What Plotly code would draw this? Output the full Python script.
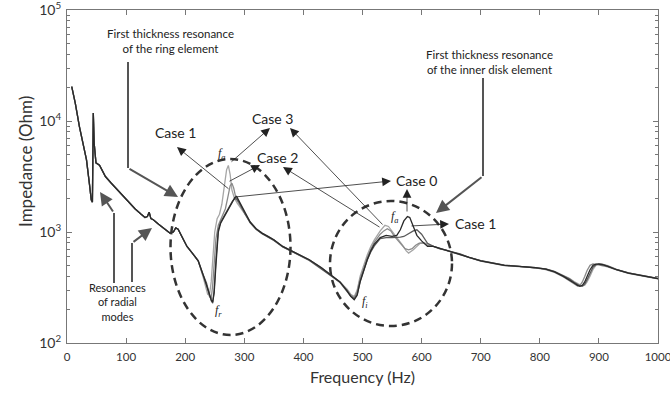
import plotly.graph_objects as go

# ---------------- data ----------------
freq_low = [8, 14, 21, 27, 33, 38, 41, 43, 44.5, 46, 49, 55, 65, 75, 90, 100, 115, 125,
            132, 136, 139, 142, 146, 155, 165, 174, 180, 184, 188]
z_low = [20400, 14500, 8900, 6300, 4470, 2700, 1950, 1860, 11800, 6300, 4200, 4000, 3160,
         2750, 2240, 1950, 1620, 1450, 1350, 1380, 1510, 1320, 1290, 1175, 1070, 980, 1000,
         1090, 1060]

freq_case0 = [195, 203, 212, 222, 230, 236, 241, 244, 246.5, 249, 252, 256, 260, 264, 268, 272,
              276, 280, 284, 287, 291, 296, 302, 310, 320, 330, 340, 350, 365, 380, 395, 410,
              430, 450, 462, 474, 480, 486, 491, 496, 502, 508, 514, 520, 530, 540, 550, 558,
              564, 570, 576, 580, 586, 592, 600, 610, 620, 632, 640]
z_case0 = [891, 741, 646, 550, 417, 331, 269, 245, 234, 282, 501, 1000, 1202, 1318, 1445, 1585,
           1738, 1905, 2042, 2089, 1905, 1660, 1445, 1230, 1072, 977, 912, 851, 741, 676, 617,
           562, 479, 398, 355, 295, 263, 245, 269, 355, 457, 562, 676, 776, 891, 933, 912, 933,
           1047, 1259, 1380, 1349, 1122, 933, 832, 741, 741, 708, 692]

freq_case1 = [195, 203, 212, 222, 230, 236, 241, 244, 246.5, 249, 252, 256, 260, 264, 268, 272,
              276, 280, 284, 287, 291, 296, 302, 310, 320, 330, 340, 350, 365, 380, 395, 410,
              430, 450, 462, 474, 480, 486, 491, 496, 502, 508, 514, 520, 530, 540, 550, 558,
              564, 570, 576, 580, 586, 592, 600, 610, 620, 632, 640]
z_case1 = [891, 741, 646, 550, 417, 347, 275, 240, 229, 300, 560, 1050, 1230, 1350, 1480, 1620,
           1780, 1900, 2000, 1990, 1860, 1640, 1430, 1210, 1060, 965, 900, 840, 735, 665, 610,
           555, 470, 392, 350, 292, 265, 250, 275, 360, 460, 560, 660, 750, 871, 891, 891, 891,
           900, 912, 955, 980, 1023, 1047, 955, 790, 741, 700, 690]

freq_case2 = [195, 203, 212, 222, 230, 236, 241, 244, 246.5, 249, 252, 256, 260, 264, 268, 272,
              276, 279, 282, 286, 291, 296, 302, 310, 320, 330, 340, 350, 365, 380, 395, 410,
              430, 450, 462, 474, 480, 486, 491, 496, 502, 508, 514, 520, 530, 536, 542, 548,
              554, 560, 566, 572, 578, 584, 590, 596, 604, 610, 620, 632, 640]
z_case2 = [891, 741, 646, 550, 407, 331, 263, 251, 331, 550, 870, 1150, 1300, 1410, 1620, 2040,
           2600, 2754, 2500, 2000, 1800, 1620, 1430, 1220, 1072, 977, 912, 851, 741, 676, 617,
           562, 479, 398, 355, 300, 270, 255, 290, 380, 480, 590, 700, 810, 955, 1023, 1072,
           1023, 912, 832, 759, 708, 692, 708, 759, 794, 794, 759, 741, 708, 692]

freq_case3 = [195, 203, 212, 222, 230, 234, 238, 241, 244, 247, 250, 254, 258, 262, 266, 270,
              273, 276, 279, 283, 288, 295, 302, 310, 320, 330, 340, 350, 365, 380, 395, 410,
              430, 450, 462, 474, 480, 486, 491, 496, 502, 508, 514, 520, 530, 538, 544, 550,
              556, 562, 568, 574, 578, 586, 592, 598, 604, 610, 620, 632, 640]
z_case3 = [891, 741, 646, 550, 398, 331, 275, 269, 355, 600, 1000, 1318, 1445, 1778, 2630, 3631,
           3981, 3311, 2399, 2040, 1820, 1620, 1430, 1220, 1060, 970, 905, 845, 738, 670, 614,
           558, 475, 395, 352, 305, 275, 262, 300, 400, 510, 620, 740, 850, 1023, 1148, 1122,
           1023, 912, 832, 759, 676, 646, 692, 741, 794, 800, 776, 741, 708, 692]

freq_tail = [650, 665, 680, 700, 720, 740, 765, 790, 810, 825, 840, 850, 858, 864, 868, 872,
             876, 880, 885, 890, 895, 900, 906, 915, 930, 950, 970, 990, 1000]
z_tail_case0 = [661, 631, 589, 550, 525, 501, 490, 479, 462, 437, 398, 372, 347, 331, 324, 331,
                355, 398, 457, 501, 513, 513, 507, 490, 457, 427, 407, 389, 380]
z_tail_case1 = [665, 635, 592, 553, 527, 503, 491, 480, 465, 440, 403, 378, 352, 337, 327, 325,
                340, 372, 427, 482, 508, 515, 510, 493, 458, 428, 408, 390, 381]
z_tail_case2 = [658, 628, 585, 547, 522, 499, 488, 477, 458, 432, 393, 365, 340, 326, 330, 355,
                398, 450, 501, 515, 512, 505, 498, 486, 455, 425, 405, 388, 379]
z_tail_case3 = [663, 633, 590, 552, 526, 502, 490, 479, 466, 442, 406, 382, 357, 342, 332, 326,
                332, 355, 400, 460, 500, 515, 514, 497, 460, 429, 409, 391, 382]

x_ticks = [0, 100, 200, 300, 400, 500, 600, 700, 800, 900, 1000]
y_ticks = [100, 1000, 10000, 100000]
y_tick_labels = ["10<sup>2</sup>", "10<sup>3</sup>", "10<sup>4</sup>", "10<sup>5</sup>"]

case_names = ["Case 3", "Case 2", "Case 1", "Case 0"]
case_freqs = [freq_case3, freq_case2, freq_case1, freq_case0]
case_z = [z_case3, z_case2, z_case1, z_case0]
case_tails = [z_tail_case3, z_tail_case2, z_tail_case1, z_tail_case0]
case_colors = ["#a6a6a6", "#8a8a8a", "#5a5a5a", "#2a2a2a"]

# ---------------- figure ----------------
W, H = 670, 394
PL, PR, PT, PB = 67, 658, 10, 343


def px(x):
    return (x - PL) / (PR - PL)


def py(y):
    return (PB - y) / (PB - PT)


fig = go.Figure()
for name, fq, zz, zt, col in zip(case_names, case_freqs, case_z, case_tails, case_colors):
    fig.add_trace(go.Scatter(
        x=freq_low + fq + freq_tail,
        y=z_low + zz + zt,
        mode="lines", name=name,
        line=dict(color=col, width=1.3),
        showlegend=False, hoverinfo="skip"))

FONT = "Lato, 'Open Sans', sans-serif"
annotations = []
shapes = []

# y-axis title
annotations.append(dict(text="Impedance (Ohm)", x=px(25), y=py(162), xref="paper", yref="paper",
                        textangle=-90, showarrow=False, xanchor="center", yanchor="middle",
                        font=dict(family=FONT, size=17, color="#333")))

# Text blocks
blocks = [
    ("First thickness resonance<br>of the ring element", 170, 40.5, 11.5),
    ("First thickness resonance<br>of the inner disk element", 489, 62, 11.5),
    ("Resonances<br>of radial<br>modes", 117, 302, 11),
]
for t, x, y, s in blocks:
    annotations.append(dict(text=t, x=px(x), y=py(y), xref="paper", yref="paper", showarrow=False,
                            xanchor="center", yanchor="middle", align="center",
                            font=dict(family=FONT, size=s, color="#222")))

case_labels = [("Case 1", 175, 132), ("Case 3", 272, 118), ("Case 2", 277, 157),
               ("Case 0", 416, 180), ("Case 1", 475, 223)]
for t, x, y in case_labels:
    annotations.append(dict(text=t, x=px(x), y=py(y), xref="paper", yref="paper", showarrow=False,
                            xanchor="center", yanchor="middle",
                            font=dict(family=FONT, size=14, color="#222")))

f_labels = [("a", 222, 154), ("r", 218, 311), ("a", 395, 217), ("i", 365, 302)]
for sub, x, y in f_labels:
    annotations.append(dict(text="<i>f</i><sub><i>%s</i></sub>" % sub, x=px(x), y=py(y),
                            xref="paper", yref="paper", showarrow=False,
                            xanchor="center", yanchor="middle",
                            font=dict(family="Liberation Serif", size=12, color="#222")))

# thick gray arrows (bent): vertical segment + arrow
thick_segments = [(128, 62, 128, 168), (483, 78, 483, 176), (114, 283, 114, 213), (132, 282, 132, 243)]
thick_arrows = [((178, 197), (128, 168)), ((436, 213), (483, 176)),
                ((100, 192), (114, 213)), ((152, 228), (132, 243))]
for x0, y0, x1, y1 in thick_segments:
    shapes.append(dict(type="line", xref="paper", yref="paper", x0=px(x0), y0=py(y0),
                       x1=px(x1), y1=py(y1), line=dict(color="#555", width=2)))
for (hx, hy), (tx, ty) in thick_arrows:
    annotations.append(dict(text="", x=px(hx), y=py(hy), xref="paper", yref="paper",
                            ax=tx - hx, ay=ty - hy, showarrow=True, arrowhead=2, arrowsize=1.3,
                            arrowwidth=2, arrowcolor="#555", standoff=0, startstandoff=0))

thin_arrows = [((177, 147), (230, 190)), ((270, 128), (230, 163)), ((260, 165), (228, 182)),
               ((290, 128), (384, 226)), ((283, 167), (381, 228)), ((391, 181), (235, 197)),
               ((407, 189), (407, 213)), ((449, 224), (410, 226))]
for (hx, hy), (tx, ty) in thin_arrows:
    annotations.append(dict(text="", x=px(hx), y=py(hy), xref="paper", yref="paper",
                            ax=tx - hx, ay=ty - hy, showarrow=True, arrowhead=2, arrowsize=2.2,
                            arrowwidth=0.8, arrowcolor="#222", standoff=0, startstandoff=0))

# dashed ellipses
for x0, x1, y0, y1 in [(170.5, 290.5, 335, 159), (330, 452, 326, 201)]:
    shapes.append(dict(type="circle", xref="paper", yref="paper", x0=px(x0), x1=px(x1),
                       y0=py(y0), y1=py(y1), line=dict(color="#333", width=2.5, dash="8px,5px")))

fig.update_layout(
    width=W, height=H,
    margin=dict(l=PL, r=W - PR, t=PT, b=H - PB, autoexpand=False),
    paper_bgcolor="white", plot_bgcolor="white",
    annotations=annotations, shapes=shapes,
    xaxis=dict(range=[0, 1000], tickmode="array", tickvals=x_ticks,
               ticktext=[str(v) for v in x_ticks], ticks="inside", ticklen=5, tickcolor="#777",
               showline=True, linecolor="#777", linewidth=1, mirror="allticks", showgrid=False,
               zeroline=False, tickfont=dict(family=FONT, size=11.5, color="#333"),
               ticklabelstandoff=3, ticklabeloverflow="allow", automargin=False,
               title=dict(text="Frequency (Hz)", font=dict(family=FONT, size=16, color="#333"),
                          standoff=10)),
    yaxis=dict(type="log", range=[2, 5], tickmode="array", tickvals=y_ticks,
               ticktext=y_tick_labels,
               ticks="inside", ticklen=5, tickcolor="#777", showline=True, linecolor="#777",
               linewidth=1, mirror="allticks", showgrid=False, zeroline=False,
               tickfont=dict(family=FONT, size=14, color="#333"), ticklabelstandoff=2,
               ticklabeloverflow="allow", automargin=False,
               minor=dict(ticks="inside", ticklen=3, tickcolor="#777", dtick="D1", showgrid=False)),
)

fig.write_html("out.html")
